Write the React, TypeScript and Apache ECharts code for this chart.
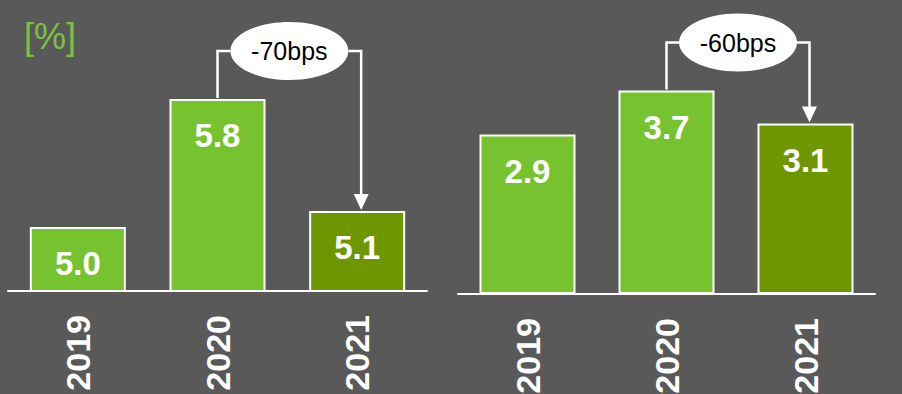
import React, { useEffect, useRef } from 'react';
import * as echarts from 'echarts';

// Categories and values for the two panels
const years = ['2019', '2020', '2021'];
const leftValues = [5.0, 5.8, 5.1];
const rightValues = [2.9, 3.7, 3.1];
const leftChange = '-70bps';
const rightChange = '-60bps';
const unitLabel = '[%]';

const BG = '#595959';
const GREEN = '#76c32f';
const DARK_GREEN = '#6e9600';
const UNIT_GREEN = '#7ac143';
const SANS = '"Liberation Sans", Arial, sans-serif';

function barSeries(values: number[], idx: number) {
  return {
    type: 'bar',
    xAxisIndex: idx,
    yAxisIndex: idx,
    barWidth: 96,
    data: values.map((v, i) => ({
      value: v,
      itemStyle: {
        color: i === values.length - 1 ? DARK_GREEN : GREEN,
        borderColor: '#ffffff',
        borderWidth: 2,
      },
    })),
    label: {
      show: true,
      position: 'insideTop',
      distance: 20,
      color: '#ffffff',
      fontFamily: SANS,
      fontWeight: 'bold',
      fontSize: 33,
      formatter: (p: any) => Number(p.value).toFixed(1),
    },
  };
}

function categoryAxis(gridIndex: number) {
  return {
    type: 'category',
    gridIndex,
    data: years,
    axisLine: { show: true, lineStyle: { color: '#ffffff', width: 2 } },
    axisTick: { show: false },
    axisLabel: {
      rotate: 90,
      margin: 24,
      color: '#ffffff',
      fontFamily: SANS,
      fontWeight: 'bold',
      fontSize: 34,
    },
  };
}

// Bracket with an oval change label, from the 2020 bar to the 2021 bar
function bracket(chart: any, seriesIndex: number, values: number[], text: string) {
  const a = chart.convertToPixel({ seriesIndex }, [1, values[1]]);
  const b = chart.convertToPixel({ seriesIndex }, [2, values[2]]);
  const ey = a[1] - 48;
  const ex = (a[0] + b[0]) / 2 + 2;
  const rx = 59;
  const ry = 29;
  const bx = b[0] + 4;
  const tipY = b[1] - 1;
  const line = { stroke: '#ffffff', lineWidth: 2.5, fill: null };
  return [
    {
      type: 'polyline',
      shape: { points: [[a[0], a[1] - 1], [a[0], ey], [ex - rx, ey]] },
      style: line,
      z: 10,
    },
    {
      type: 'polyline',
      shape: { points: [[ex + rx, ey], [bx, ey], [bx, tipY - 14]] },
      style: line,
      z: 10,
    },
    {
      type: 'polygon',
      shape: { points: [[bx - 7.5, tipY - 16], [bx + 7.5, tipY - 16], [bx, tipY]] },
      style: { fill: '#ffffff' },
      z: 10,
    },
    {
      type: 'ellipse',
      shape: { cx: ex, cy: ey, rx, ry },
      style: { fill: '#ffffff' },
      z: 11,
    },
    {
      type: 'text',
      x: ex,
      y: ey,
      z: 12,
      style: {
        text,
        fill: '#000000',
        fontFamily: SANS,
        fontSize: 25,
        align: 'center',
        verticalAlign: 'middle',
      },
    },
  ];
}

export default function App() {
  const ref = useRef<HTMLDivElement>(null);

  useEffect(() => {
    if (!ref.current) return;
    const chart = echarts.init(ref.current, undefined, { renderer: 'svg' });
    chart.setOption({
      animation: false,
      backgroundColor: BG,
      grid: [
        { left: 8, width: 419, top: 67, bottom: 103, outerBoundsMode: 'none' },
        { left: 458, width: 417, top: 74, bottom: 100, outerBoundsMode: 'none' },
      ],
      xAxis: [categoryAxis(0), categoryAxis(1)],
      yAxis: [
        { type: 'value', gridIndex: 0, min: 4.6, max: 6.0, show: false },
        { type: 'value', gridIndex: 1, min: 0, max: 4, show: false },
      ],
      series: [barSeries(leftValues, 0), barSeries(rightValues, 1)],
    });
    chart.setOption({
      graphic: [
        {
          type: 'text',
          x: 24,
          y: 18,
          style: {
            text: unitLabel,
            fill: UNIT_GREEN,
            fontFamily: SANS,
            fontSize: 36,
            verticalAlign: 'top',
          },
        },
        ...bracket(chart, 0, leftValues, leftChange),
        ...bracket(chart, 1, rightValues, rightChange),
      ],
    });
    return () => chart.dispose();
  }, []);

  return (
    <div
      ref={ref}
      style={{ position: 'fixed', left: 0, top: 0, width: 902, height: 394 }}
    />
  );
}
